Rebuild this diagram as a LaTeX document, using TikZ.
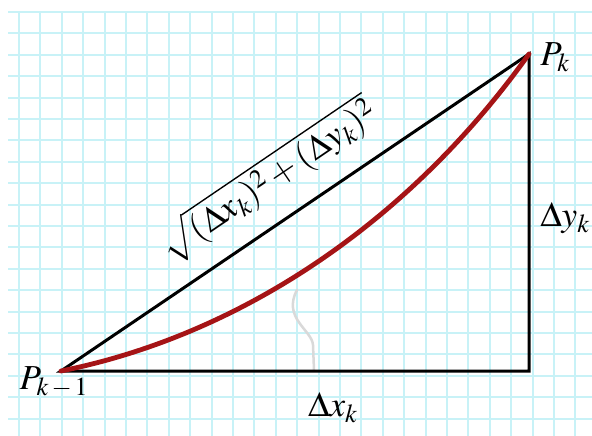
\documentclass[tikz,border=0pt]{standalone}
\usepackage{mathptmx}
\usetikzlibrary{calc}
\definecolor{gridc}{RGB}{200,242,247}
\definecolor{curvec}{RGB}{165,20,22}
\begin{document}
\begin{tikzpicture}[x=1pt,y=-1pt,
  gridline/.style={gridc,line width=2pt},
  side/.style={black,line width=3pt,line join=miter},
  arcline/.style={curvec,line width=4.8pt,line cap=round},
  lbl/.style={font=\fontsize{27}{32}\selectfont,inner sep=0pt,scale=1.3}]
\useasboundingbox (0,0) rectangle (592,436);
\fill[white] (0,0) rectangle (592,436);
% grid
\foreach \i in {0,...,26} {
  \pgfmathsetmacro{\gx}{19+21.4*\i}
  \draw[gridline] (\gx,12) -- (\gx,436);
}
\foreach \j in {0,...,19} {
  \pgfmathsetmacro{\gy}{12+21.4*\j}
  \draw[gridline] (8,\gy) -- (592,\gy);
}
% points
\coordinate (A) at (61,371);
\coordinate (B) at (529,371);
\coordinate (C) at (529,54);
\coordinate (G0) at (297,290);
\coordinate (G1) at (314,370);
% faint gray squiggle
\draw[gray!30,line width=2.5pt,line cap=round] (G0) .. controls (282,318) and (312,330) .. (313,345) -- (G1);
% triangle
\draw[side] (A) -- (B) -- (C) -- cycle;
% arc
\draw[arcline] (A) .. controls (241,335) and (409,222) .. (C);
% labels
\node[lbl,anchor=west] (lPk) at (540,57) {$P_k$};
\node[lbl] (lPk1) at (54,382) {$P_{k\,-\,1}$};
\node[lbl,anchor=west] (ldy) at (540,218) {$\Delta y_k$};
\node[lbl] (ldx) at (333,408) {$\Delta x_k$};
\node[lbl,rotate=34.2] (lhyp) at (268,180) {$\sqrt{(\Delta x_k)^2+(\Delta y_k)^2}$};
\end{tikzpicture}
\end{document}
